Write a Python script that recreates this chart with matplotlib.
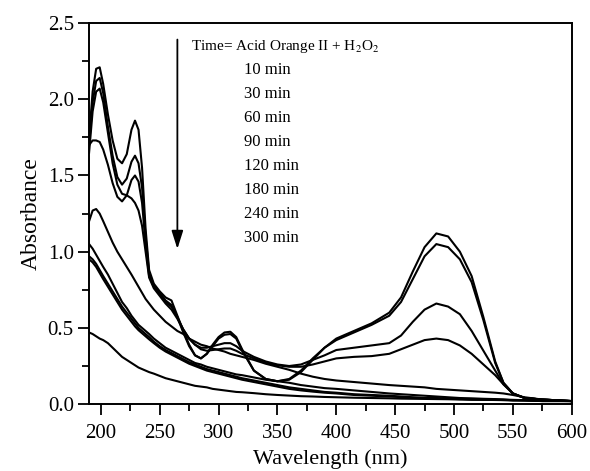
import numpy as np
import matplotlib
matplotlib.use("Agg")
import matplotlib.pyplot as plt
from matplotlib.ticker import MultipleLocator, FormatStrFormatter

plt.rcParams["font.family"] = "Liberation Serif"
plt.rcParams["mathtext.fontset"] = "stix"

# wavelength grid (nm) shared by all spectra
wl = [190, 193, 196, 199, 202, 206, 210, 214, 218, 222, 226, 229, 232, 235, 238, 241,
      245, 250, 255, 260, 265, 270, 275, 280, 285, 290, 295, 300, 305, 310, 315, 320,
      330, 340, 350, 360, 370, 380, 390, 400, 415, 430, 445, 455, 465, 475, 485, 495,
      505, 515, 525, 535, 542, 550, 560, 575, 600]

# absorbance
abs_t0 = [1.75, 2.05, 2.20, 2.21, 2.10, 1.90, 1.73, 1.61, 1.58, 1.64, 1.80, 1.86, 1.80, 1.55, 1.15, 0.88,
          0.79, 0.74, 0.70, 0.68, 0.58, 0.48, 0.39, 0.32, 0.30, 0.33, 0.39, 0.44, 0.47, 0.475, 0.44, 0.36,
          0.22, 0.165, 0.15, 0.16, 0.21, 0.29, 0.37, 0.43, 0.48, 0.53, 0.60, 0.70, 0.87, 1.03, 1.12, 1.10,
          1.00, 0.84, 0.57, 0.28, 0.14, 0.07, 0.04, 0.03, 0.02]
abs_10 = [1.70, 1.98, 2.12, 2.14, 2.04, 1.82, 1.63, 1.49, 1.44, 1.48, 1.59, 1.63, 1.58, 1.42, 1.10, 0.86,
          0.78, 0.73, 0.68, 0.65, 0.57, 0.47, 0.38, 0.32, 0.30, 0.33, 0.38, 0.43, 0.455, 0.46, 0.43, 0.35,
          0.22, 0.165, 0.15, 0.165, 0.22, 0.30, 0.37, 0.42, 0.47, 0.52, 0.58, 0.67, 0.82, 0.97, 1.05, 1.03,
          0.95, 0.80, 0.55, 0.27, 0.14, 0.07, 0.04, 0.03, 0.02]
abs_30 = [1.70, 1.73, 1.73, 1.72, 1.67, 1.57, 1.45, 1.36, 1.33, 1.37, 1.47, 1.50, 1.46, 1.32, 1.05, 0.84,
          0.77, 0.72, 0.67, 0.64, 0.57, 0.49, 0.43, 0.39, 0.37, 0.37, 0.38, 0.39, 0.40, 0.40, 0.38, 0.35,
          0.31, 0.28, 0.26, 0.25, 0.26, 0.29, 0.32, 0.355, 0.37, 0.385, 0.40, 0.45, 0.54, 0.62, 0.66, 0.64,
          0.59, 0.48, 0.35, 0.22, 0.13, 0.07, 0.04, 0.03, 0.02]
abs_60 = [1.65, 1.92, 2.05, 2.07, 1.98, 1.78, 1.58, 1.44, 1.38, 1.37, 1.35, 1.32, 1.27, 1.17, 1.00, 0.83,
          0.76, 0.71, 0.66, 0.62, 0.56, 0.49, 0.43, 0.39, 0.36, 0.35, 0.355, 0.36, 0.365, 0.365, 0.35, 0.33,
          0.30, 0.27, 0.255, 0.245, 0.245, 0.26, 0.28, 0.30, 0.31, 0.315, 0.33, 0.36, 0.39, 0.42, 0.43, 0.42,
          0.385, 0.33, 0.26, 0.19, 0.13, 0.07, 0.04, 0.03, 0.02]
abs_90 = [1.20, 1.27, 1.28, 1.25, 1.20, 1.13, 1.06, 1.00, 0.95, 0.90, 0.85, 0.81, 0.77, 0.73, 0.69, 0.66,
          0.62, 0.58, 0.54, 0.51, 0.48, 0.46, 0.43, 0.41, 0.39, 0.38, 0.365, 0.355, 0.345, 0.33, 0.32, 0.31,
          0.29, 0.265, 0.245, 0.225, 0.20, 0.18, 0.165, 0.155, 0.145, 0.135, 0.125, 0.12, 0.115, 0.11, 0.10, 0.095,
          0.09, 0.085, 0.08, 0.075, 0.07, 0.06, 0.045, 0.03, 0.02]
abs_120 = [1.05, 1.02, 0.98, 0.94, 0.90, 0.85, 0.79, 0.73, 0.67, 0.63, 0.58, 0.55, 0.52, 0.50, 0.48, 0.46,
           0.43, 0.40, 0.37, 0.35, 0.33, 0.31, 0.29, 0.27, 0.26, 0.245, 0.235, 0.225, 0.215, 0.205, 0.195, 0.19,
           0.175, 0.16, 0.15, 0.14, 0.125, 0.115, 0.105, 0.10, 0.09, 0.08, 0.07, 0.065, 0.06, 0.055, 0.05, 0.045,
           0.04, 0.038, 0.035, 0.033, 0.03, 0.028, 0.026, 0.023, 0.02]
abs_180 = [0.97, 0.95, 0.92, 0.88, 0.84, 0.79, 0.74, 0.69, 0.64, 0.60, 0.56, 0.53, 0.50, 0.48, 0.46, 0.44,
           0.41, 0.38, 0.355, 0.335, 0.315, 0.295, 0.275, 0.26, 0.245, 0.23, 0.22, 0.21, 0.20, 0.19, 0.18, 0.17,
           0.155, 0.14, 0.125, 0.11, 0.10, 0.09, 0.08, 0.075, 0.065, 0.06, 0.055, 0.05, 0.045, 0.04, 0.04, 0.035,
           0.035, 0.03, 0.03, 0.03, 0.03, 0.025, 0.025, 0.02, 0.02]
abs_240 = [0.95, 0.93, 0.90, 0.86, 0.82, 0.77, 0.72, 0.67, 0.62, 0.58, 0.54, 0.51, 0.485, 0.465, 0.445, 0.425,
           0.40, 0.37, 0.345, 0.325, 0.305, 0.285, 0.265, 0.25, 0.235, 0.22, 0.21, 0.20, 0.19, 0.18, 0.17, 0.16,
           0.145, 0.13, 0.115, 0.10, 0.09, 0.082, 0.075, 0.07, 0.06, 0.055, 0.05, 0.046, 0.042, 0.04, 0.037, 0.035,
           0.033, 0.03, 0.03, 0.028, 0.027, 0.025, 0.024, 0.02, 0.02]
abs_300 = [0.47, 0.46, 0.445, 0.43, 0.42, 0.40, 0.37, 0.34, 0.31, 0.29, 0.27, 0.255, 0.24, 0.23, 0.22, 0.21,
           0.20, 0.185, 0.17, 0.16, 0.15, 0.14, 0.13, 0.12, 0.115, 0.11, 0.10, 0.095, 0.09, 0.085, 0.08, 0.078,
           0.072, 0.065, 0.06, 0.056, 0.052, 0.05, 0.047, 0.045, 0.042, 0.04, 0.038, 0.036, 0.035, 0.034, 0.033, 0.032,
           0.03, 0.03, 0.028, 0.027, 0.026, 0.025, 0.024, 0.022, 0.02]

spectra = [abs_t0, abs_10, abs_30, abs_60, abs_90, abs_120, abs_180, abs_240, abs_300]
time_labels = ["10 min", "30 min", "60 min", "90 min", "120 min", "180 min", "240 min", "300 min"]

fig = plt.figure(figsize=(5.9, 4.71), dpi=100)
ax = fig.add_axes([0.151, 0.142, 0.818, 0.809])

for s in spectra:
    ax.plot(wl, s, color="black", lw=1.5)

ax.set_xlim(190, 600)
ax.set_ylim(0, 2.5)
ax.xaxis.set_major_locator(MultipleLocator(50))
ax.xaxis.set_minor_locator(MultipleLocator(25))
ax.yaxis.set_major_locator(MultipleLocator(0.5))
ax.yaxis.set_minor_locator(MultipleLocator(0.25))
ax.yaxis.set_major_formatter(FormatStrFormatter("%.1f"))
ax.tick_params(which="both", direction="out", top=False, right=False, width=1.3)
ax.tick_params(which="major", length=8, labelsize=15, pad=3)
ax.tick_params(axis="x", which="major", pad=6)
ax.tick_params(which="minor", length=5)
for sp in ax.spines.values():
    sp.set_linewidth(1.4)

ax.set_xlabel("Wavelength (nm)", fontsize=16, labelpad=5)
ax.set_ylabel("Absorbance", fontsize=17, labelpad=4)

# downward arrow marking time evolution
ax.annotate("", xy=(265, 1.0), xytext=(265, 2.41),
            arrowprops=dict(arrowstyle="-|>,head_length=1.1,head_width=0.35", color="black", lw=1.3))

ax.text(277.0, 2.345, "Time= Acid Orange II + H$_2$O$_2$", fontsize=11, va="center", ha="left")
for i, lab in enumerate(time_labels):
    ax.text(321.5, 2.19 - i * 0.157, lab, fontsize=12, va="center", ha="left")

fig.savefig("out.png", dpi=100)
